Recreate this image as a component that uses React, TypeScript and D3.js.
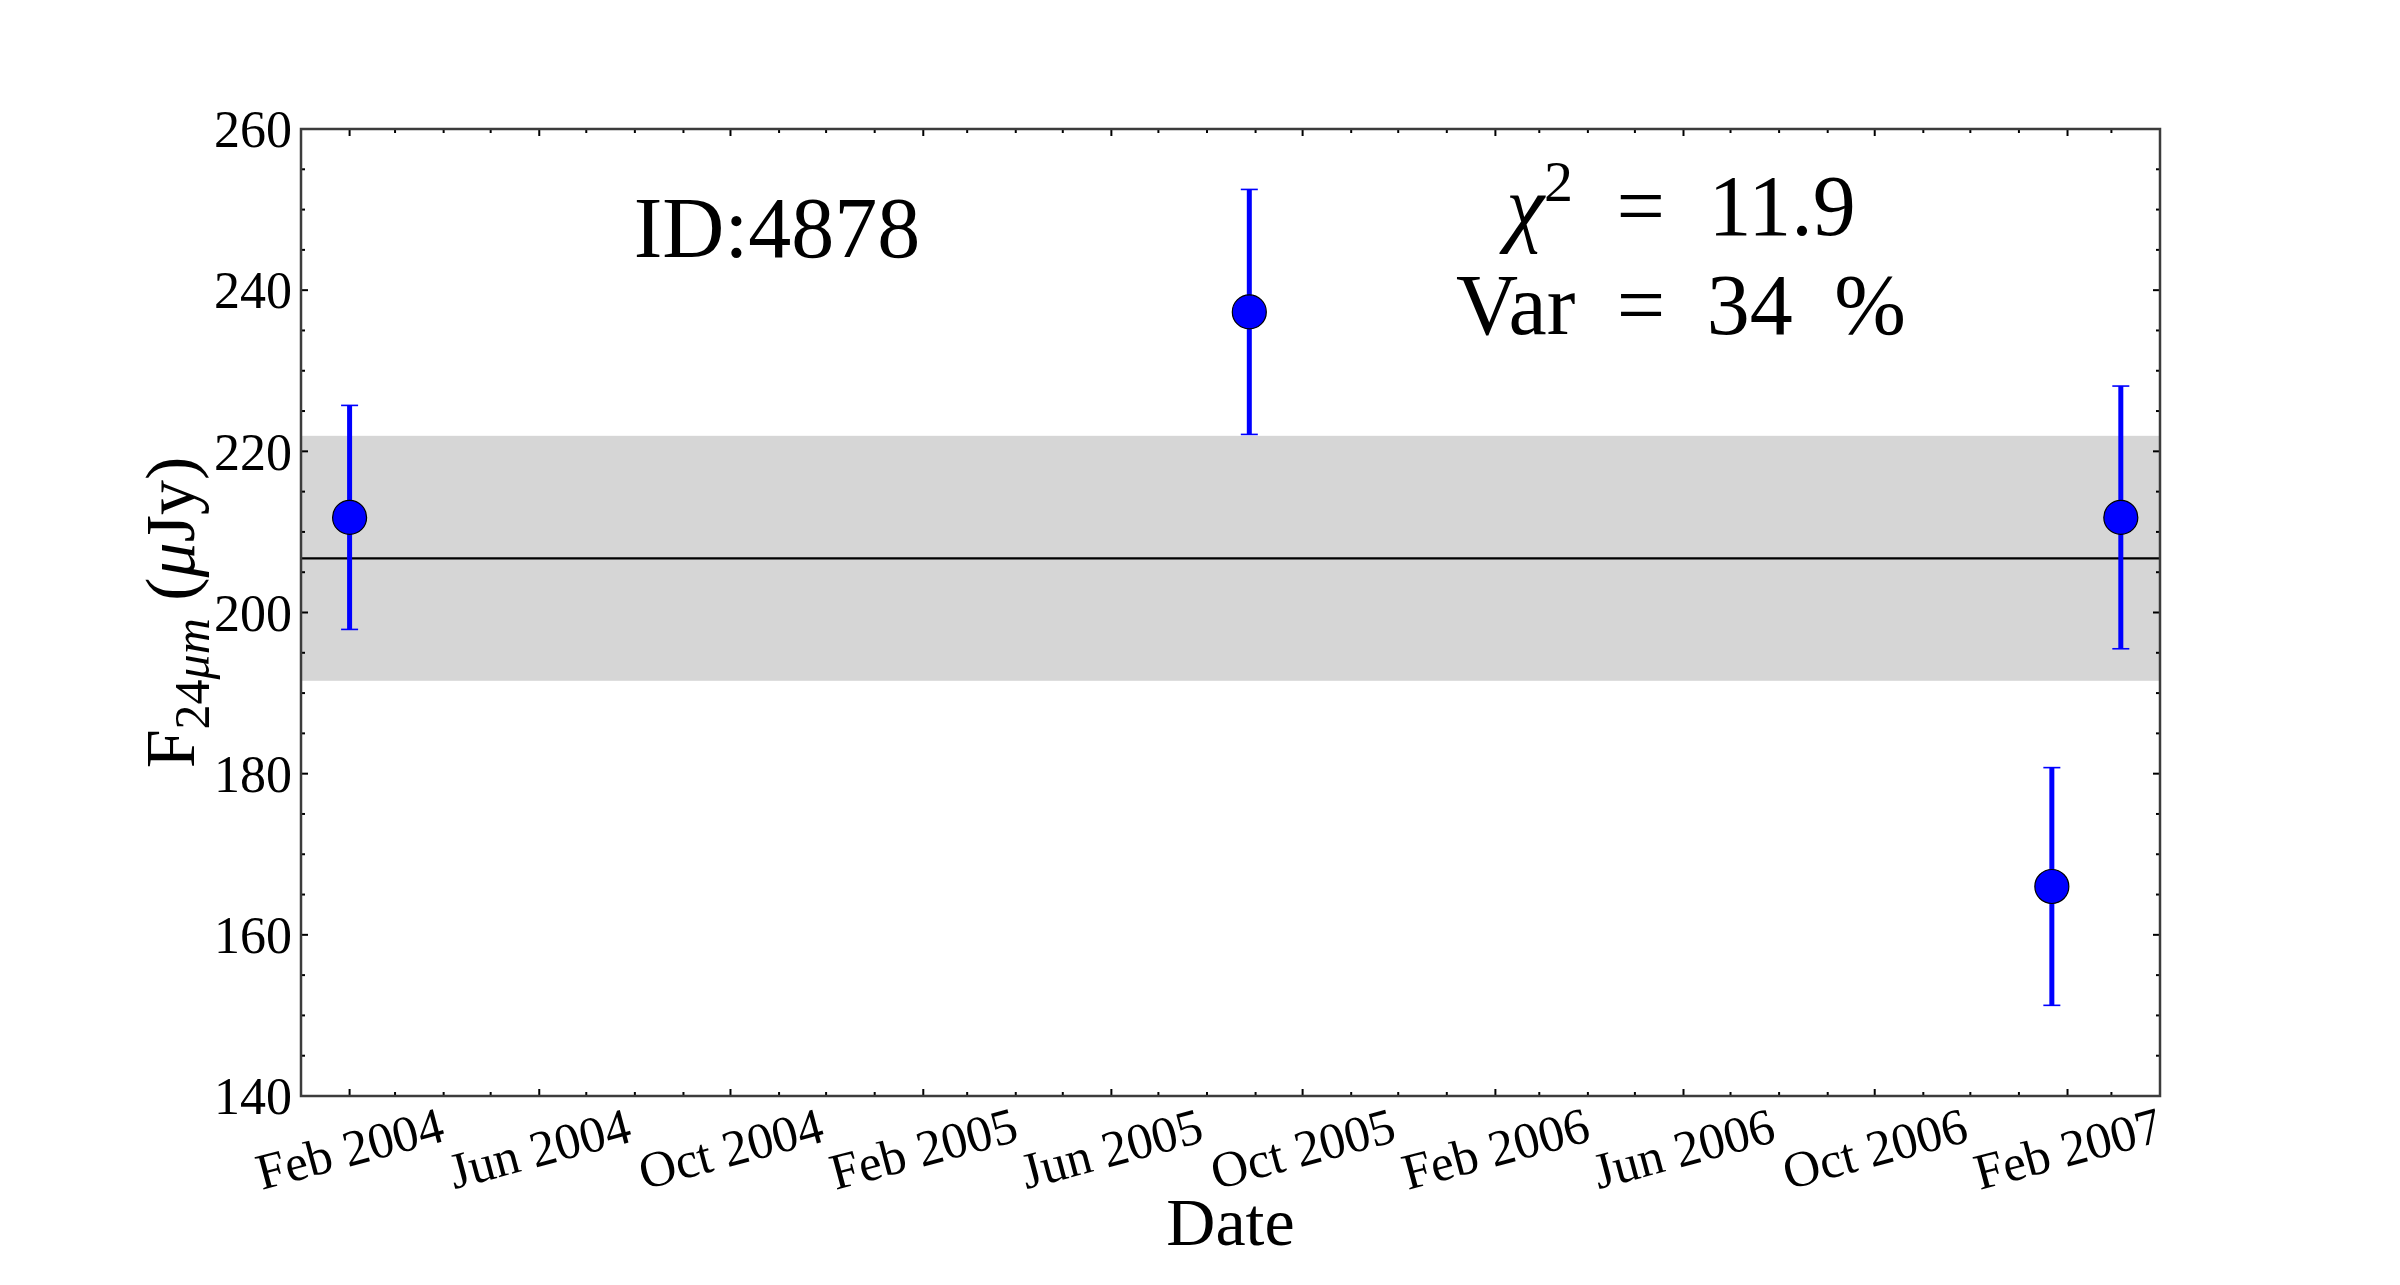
import * as d3 from "d3";

const W = 2400;
const H = 1285;
const MARGIN = { top: 129, right: 240, bottom: 189, left: 301 };
const INNER_W = W - MARGIN.left - MARGIN.right;
const INNER_H = H - MARGIN.top - MARGIN.bottom;

const FONT = '"Liberation Serif", "DejaVu Serif", serif';

// observations
const OBS_DATES = ["2004-02-01", "2005-08-28", "2007-01-22", "2007-03-07"];
const FLUX = [211.8, 237.3, 166.0, 211.8];
const FLUX_ERR = [13.9, 15.2, 14.75, 16.3];
const BAND_HALF = 15.2;

const X_DOMAIN = ["2004-01-01", "2007-04-01"];
const Y_DOMAIN = [140, 260];
const Y_TICKS = [140, 160, 180, 200, 220, 240, 260];
const X_TICK_LABELS = [
  "Feb 2004",
  "Jun 2004",
  "Oct 2004",
  "Feb 2005",
  "Jun 2005",
  "Oct 2005",
  "Feb 2006",
  "Jun 2006",
  "Oct 2006",
  "Feb 2007",
];

const parseDay = d3.utcParse("%Y-%m-%d");
const parseTick = d3.utcParse("%b %Y");

const BLUE = "#0000ff";
const SPINE = "#3c3c3c";

export default function App() {
  const x = d3
    .scaleUtc()
    .domain(X_DOMAIN.map((d) => parseDay(d) as Date))
    .range([0, INNER_W]);
  const y = d3.scaleLinear().domain(Y_DOMAIN).range([INNER_H, 0]);

  const points = OBS_DATES.map((d, i) => ({
    date: parseDay(d) as Date,
    flux: FLUX[i],
    err: FLUX_ERR[i],
  }));
  const mean = d3.mean(FLUX) ?? 0;

  const majorX = X_TICK_LABELS.map((label) => ({
    label,
    date: parseTick(label) as Date,
  }));
  const majorXSet = new Set(majorX.map((t) => +t.date));
  const [x0, x1] = x.domain();
  const minorX = d3
    .utcMonth.range(x0, d3.utcDay.offset(x1, 1))
    .filter((d) => !majorXSet.has(+d));
  const minorY = d3
    .range(Y_DOMAIN[0], Y_DOMAIN[1] + 1, 5)
    .filter((v) => !Y_TICKS.includes(v));

  const MAJOR_LEN = 7;
  const MINOR_LEN = 4;

  return (
    <svg
      width={W}
      height={H}
      style={{ position: "fixed", left: 0, top: 0, background: "#fff" }}
      fontFamily={FONT}
    >
      <rect width={W} height={H} fill="#fff" />
      <g transform={`translate(${MARGIN.left},${MARGIN.top})`}>
        {/* scatter band around the mean */}
        <rect
          x={0}
          width={INNER_W}
          y={y(mean + BAND_HALF)}
          height={y(mean - BAND_HALF) - y(mean + BAND_HALF)}
          fill="#d6d6d6"
        />
        <line
          x1={0}
          x2={INNER_W}
          y1={y(mean)}
          y2={y(mean)}
          stroke="#000"
          strokeWidth={2.2}
        />

        {/* error bars */}
        {points.map((p, i) => (
          <g key={`e${i}`} stroke={BLUE}>
            <line
              x1={x(p.date)}
              x2={x(p.date)}
              y1={y(p.flux - p.err)}
              y2={y(p.flux + p.err)}
              strokeWidth={5}
            />
            <line
              x1={x(p.date) - 8.5}
              x2={x(p.date) + 8.5}
              y1={y(p.flux + p.err)}
              y2={y(p.flux + p.err)}
              strokeWidth={1.6}
            />
            <line
              x1={x(p.date) - 8.5}
              x2={x(p.date) + 8.5}
              y1={y(p.flux - p.err)}
              y2={y(p.flux - p.err)}
              strokeWidth={1.6}
            />
          </g>
        ))}
        {points.map((p, i) => (
          <circle
            key={`p${i}`}
            cx={x(p.date)}
            cy={y(p.flux)}
            r={17}
            fill={BLUE}
            stroke="#000"
            strokeWidth={1.2}
          />
        ))}

        {/* ticks, inward on all four sides */}
        <g stroke="#000" strokeWidth={2}>
          {majorX.map((t, i) => (
            <g key={`mx${i}`}>
              <line x1={x(t.date)} x2={x(t.date)} y1={INNER_H} y2={INNER_H - MAJOR_LEN} />
              <line x1={x(t.date)} x2={x(t.date)} y1={0} y2={MAJOR_LEN} />
            </g>
          ))}
          {minorX.map((d, i) => (
            <g key={`nx${i}`}>
              <line x1={x(d)} x2={x(d)} y1={INNER_H} y2={INNER_H - MINOR_LEN} />
              <line x1={x(d)} x2={x(d)} y1={0} y2={MINOR_LEN} />
            </g>
          ))}
          {Y_TICKS.map((v) => (
            <g key={`my${v}`}>
              <line x1={0} x2={MAJOR_LEN} y1={y(v)} y2={y(v)} />
              <line x1={INNER_W} x2={INNER_W - MAJOR_LEN} y1={y(v)} y2={y(v)} />
            </g>
          ))}
          {minorY.map((v) => (
            <g key={`ny${v}`}>
              <line x1={0} x2={MINOR_LEN} y1={y(v)} y2={y(v)} />
              <line x1={INNER_W} x2={INNER_W - MINOR_LEN} y1={y(v)} y2={y(v)} />
            </g>
          ))}
        </g>
        <rect
          x={0}
          y={0}
          width={INNER_W}
          height={INNER_H}
          fill="none"
          stroke={SPINE}
          strokeWidth={2.5}
        />

        {/* tick labels */}
        {Y_TICKS.map((v) => (
          <text
            key={`ly${v}`}
            x={-9}
            y={y(v)}
            dy="0.35em"
            textAnchor="end"
            fontSize={52}
            fill="#000"
          >
            {v}
          </text>
        ))}
        {majorX.map((t, i) => (
          <text
            key={`lx${i}`}
            transform={`translate(${x(t.date)},${INNER_H + 52}) rotate(-15)`}
            dy="0.35em"
            textAnchor="middle"
            fontSize={51}
            fill="#000"
          >
            {t.label}
          </text>
        ))}

        {/* annotations */}
        <text x={476} y={128} textAnchor="middle" fontSize={86} fill="#000">
          ID:4878
        </text>
        <text
          x={1380}
          y={106}
          textAnchor="middle"
          fontSize={86}
          wordSpacing={22}
          fill="#000"
        >
          <tspan fontStyle="italic">χ</tspan>
          <tspan dy={-34} fontSize={58}>
            2
          </tspan>
          <tspan dy={34}> = 11.9</tspan>
        </text>
        <text
          x={1380}
          y={205}
          textAnchor="middle"
          fontSize={86}
          wordSpacing={20}
          fill="#000"
        >
          Var = 34 %
        </text>
      </g>

      {/* axis titles */}
      <text
        x={MARGIN.left + INNER_W / 2}
        y={1245}
        textAnchor="middle"
        fontSize={68}
        fill="#000"
      >
        Date
      </text>
      <text
        transform={`translate(194,${MARGIN.top + INNER_H / 2}) rotate(-90)`}
        textAnchor="middle"
        fontSize={70}
        fill="#000"
      >
        F
        <tspan dy={15} fontSize={50}>
          24<tspan fontStyle="italic">μm</tspan>
        </tspan>
        <tspan dy={-15}> (</tspan>
        <tspan fontStyle="italic">μ</tspan>
        <tspan>Jy)</tspan>
      </text>
    </svg>
  );
}
